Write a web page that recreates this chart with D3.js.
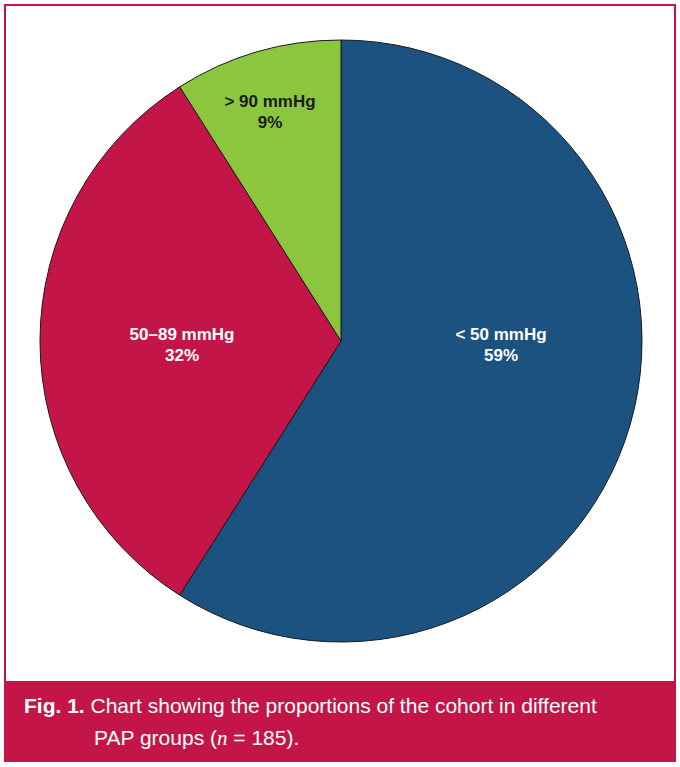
<!DOCTYPE html>
<html><head><meta charset="utf-8">
<script src="https://cdn.jsdelivr.net/npm/d3@7"></script>
<style>body{margin:0;background:#fff}</style></head>
<body><svg id="c" width="680" height="767"></svg>
<script>
const categories = ["< 50 mmHg", "50–89 mmHg", "> 90 mmHg"];
const values = [59, 32, 9];
const colors = ["#1b5280", "#c41548", "#8cc63f"];

const svg = d3.select("#c");
svg.append("rect").attr("x",5).attr("y",5).attr("width",670).attr("height",756)
  .attr("fill","#fff").attr("stroke","#c41548").attr("stroke-width",2);
svg.append("rect").attr("x",5).attr("y",681).attr("width",670).attr("height",80).attr("fill","#c41548");

const cx=341, cy=341, r=301;
const data = categories.map((c,i)=>({c, v:values[i], col:colors[i]}));
const pie = d3.pie().value(d=>d.v).sort(null);
const arc = d3.arc().innerRadius(0).outerRadius(r);
const g = svg.append("g").attr("transform",`translate(${cx},${cy})`);
const arcs = pie(data);
g.selectAll("path").data(arcs).join("path").attr("d",arc)
  .attr("fill",d=>d.data.col).attr("stroke","#1a1a1a").attr("stroke-width",1);

const labelPos = [[160,0],[-159,0],[-71,-233]];
const txtCol = ["#fff","#fff","#1a1a1a"];
arcs.forEach((a,i)=>{
  const t = g.append("text").attr("text-anchor","middle")
    .attr("font-family","Liberation Sans, Arial, sans-serif").attr("font-weight","bold")
    .attr("font-size",17).attr("fill",txtCol[i]);
  t.append("tspan").attr("x",labelPos[i][0]).attr("y",labelPos[i][1]-1).text(a.data.c);
  t.append("tspan").attr("x",labelPos[i][0]).attr("y",labelPos[i][1]+20).text(a.data.v+"%");
});

const cap = svg.append("text").attr("font-family","Liberation Sans, Arial, sans-serif")
  .attr("font-size",21).attr("fill","#fff");
const l1 = cap.append("tspan").attr("x",24).attr("y",713);
l1.append("tspan").attr("font-weight","bold").text("Fig. 1.");
l1.append("tspan").text(" Chart showing the proportions of the cohort in different");
const l2 = cap.append("tspan").attr("x",94).attr("y",745);
l2.append("tspan").text("PAP groups (");
l2.append("tspan").attr("font-style","italic").attr("font-family","Liberation Serif, serif").text("n");
l2.append("tspan").text(" = 185).");
</script></body></html>
